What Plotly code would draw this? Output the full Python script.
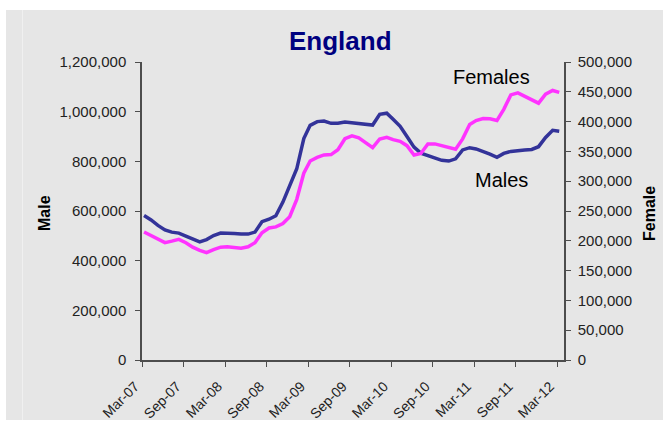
import pandas as pd
import plotly.graph_objects as go

# ---- data ----
months = pd.date_range("2007-03-01", periods=61, freq="MS") + pd.Timedelta(days=9)
males = [582000, 564000, 542000, 524000, 515000, 511000, 499000, 488000, 476000, 485000,
         501000, 511000, 511000, 509000, 507000, 507000, 515000, 557000, 567000, 581000,
         636000, 701000, 770000, 892000, 945000, 960000, 962000, 953000, 953000, 958000,
         955000, 950000, 948000, 946000, 989000, 994000, 969000, 941000, 900000, 857000,
         833000, 823000, 813000, 804000, 801000, 810000, 846000, 855000, 850000, 841000,
         829000, 816000, 832000, 840000, 844000, 846000, 848000, 859000, 896000, 925000,
         921000]
females = [214800, 208900, 203400, 197000, 199500, 202500, 196800, 189300, 183900, 180000,
           185200, 189300, 190000, 188400, 187400, 190000, 196800, 213400, 221500, 223300,
           229000, 240400, 269600, 313400, 333900, 339800, 344000, 344600, 352700, 371300,
           376200, 372800, 363600, 356200, 370800, 373700, 369800, 366800, 359600, 344000,
           346500, 362300, 362600, 360000, 356200, 353500, 371000, 395000, 401700, 405200,
           404900, 402000, 420600, 444800, 448200, 442500, 435600, 430900, 446000, 452200,
           449000]
title_text = "England"
left_title = "Male"
right_title = "Female"
series_labels = ["Females", "Males"]

W, H = 663, 421
L, R, T, B = 142, 99, 62, 61
pw, ph = W - L - R, H - T - B

def px_x(x):
    return (x - L) / pw

def px_y(y):
    return (H - B - y) / ph

GRAY = "#e6e6e6"
AXIS = "#4d4d4d"
FONT = "Liberation Sans, Arial, sans-serif"

fig = go.Figure()
fig.add_trace(go.Scatter(x=months, y=males, mode="lines", name="Males",
                         line=dict(color="#333399", width=3.5), yaxis="y"))
fig.add_trace(go.Scatter(x=months, y=females, mode="lines", name="Females",
                         line=dict(color="#ff33ff", width=3.5), yaxis="y2"))

def label(text, x, y, size, color="#000000", angle=0):
    return dict(text=text, xref="paper", yref="paper", x=px_x(x), y=px_y(y),
                xanchor="center", yanchor="middle", textangle=angle,
                showarrow=False, font=dict(size=size, color=color))

fig.update_layout(
    width=W, height=H, autosize=False,
    margin=dict(l=L, r=R, t=T, b=B, pad=0, autoexpand=False),
    paper_bgcolor="white",
    plot_bgcolor=GRAY,
    showlegend=False,
    font=dict(family=FONT, size=15, color="#222222"),
    xaxis=dict(
        type="date", range=["2007-03-01", "2012-03-31"],
        tick0="2007-03-01", dtick="M6", tickformat="%b-%y",
        tickangle=-45, ticks="outside", ticklen=5, tickcolor=AXIS,
        showline=True, linecolor=AXIS, linewidth=1.5, showgrid=False,
        zeroline=False, tickfont=dict(size=14), automargin=False,
        ticklabelstandoff=6, ticklabelshift=-7,
    ),
    yaxis=dict(
        range=[0, 1200000], dtick=200000, tickformat=",",
        ticks="outside", ticklen=5, tickcolor=AXIS,
        showline=True, linecolor=AXIS, linewidth=1.5, showgrid=False,
        zeroline=False, ticklabelstandoff=6, automargin=False,
    ),
    yaxis2=dict(
        range=[0, 500000], dtick=50000, tickformat=",",
        overlaying="y", side="right",
        ticks="outside", ticklen=5, tickcolor=AXIS,
        showline=True, linecolor=AXIS, linewidth=1.5, showgrid=False,
        zeroline=False, ticklabelstandoff=4, automargin=False,
    ),
    shapes=[
        dict(type="rect", xref="paper", yref="paper", layer="below",
             x0=px_x(6), x1=px_x(W + 5), y0=px_y(10), y1=px_y(H - 1),
             fillcolor=GRAY, line=dict(width=0)),
        dict(type="line", xref="paper", yref="paper", layer="below",
             x0=px_x(22.5), x1=px_x(22.5), y0=px_y(10), y1=px_y(H - 1),
             line=dict(color="#f0f0f0", width=1)),
    ],
    annotations=[
        label(f"<b>{title_text}</b>", 340, 41, 26, "#000080"),
        label(f"<b>{left_title}</b>", 44, 213, 16, angle=-90),
        label(f"<b>{right_title}</b>", 650, 214, 16, angle=-90),
        label(series_labels[0], 491, 77, 20),
        label(series_labels[1], 501, 180, 20),
    ],
)

fig.write_html("out.html",
               config={"displayModeBar": False, "responsive": False},
               default_width="663px", default_height="421px",
               post_script="document.body.style.margin='0';document.body.style.overflow='hidden';")
